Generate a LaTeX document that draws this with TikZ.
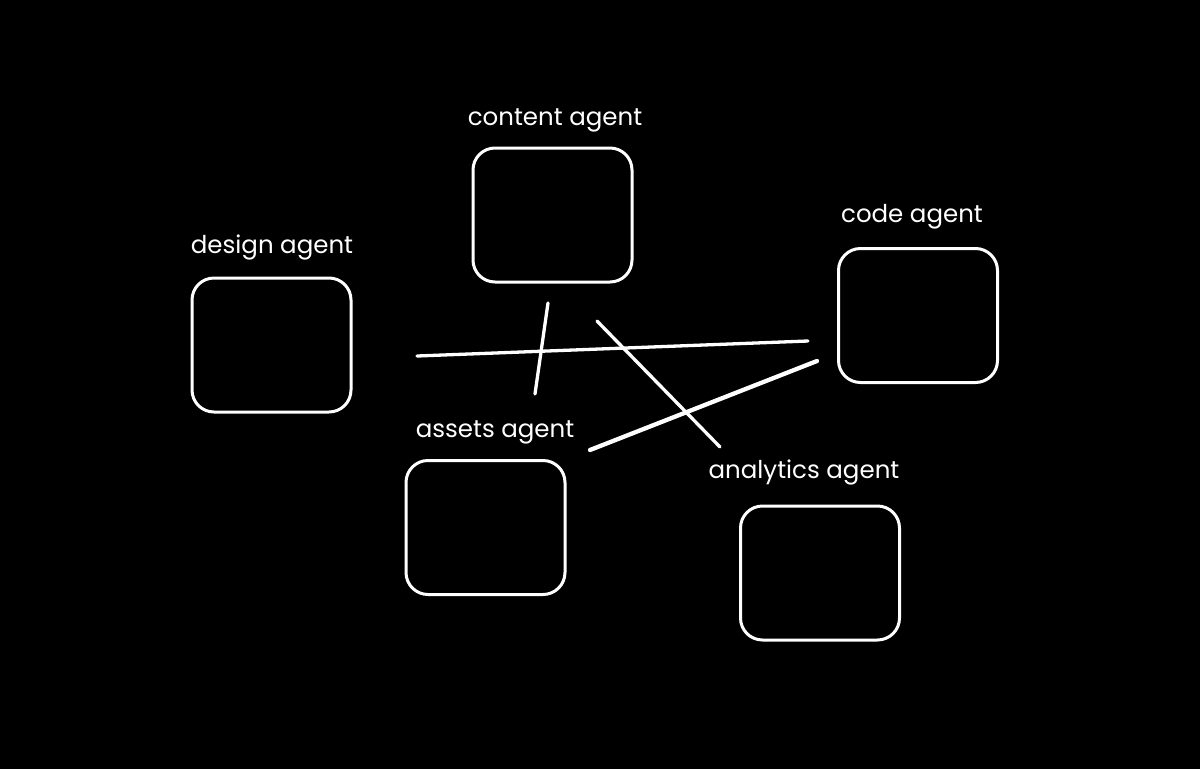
\documentclass[tikz,border=0pt]{standalone}
\usepackage{fontspec}
\setmainfont{Poppins}
\begin{document}
\begin{tikzpicture}[x=1pt,y=-1pt,
  agentbox/.style={draw=white,line width=3pt,rounded corners=22pt,minimum width=159pt,minimum height=134pt,inner sep=0pt},
  agentlabel/.style={text=white,font=\fontsize{24.5}{28}\selectfont,anchor=base,inner sep=0pt},
  link/.style={white,line width=3.3pt,line cap=round}]
\fill[black] (0,0) rectangle (1200,769);
\useasboundingbox (0,0) rectangle (1200,769);
% boxes
\node[agentbox] (content) at (552.5,215) {};
\node[agentbox] (design) at (271.5,345) {};
\node[agentbox] (code) at (918,315.5) {};
\node[agentbox] (assets) at (485.5,527.5) {};
\node[agentbox] (analytics) at (820,573) {};
% labels
\node[agentlabel] (lcontent) at (555,125) {content agent};
\node[agentlabel] (ldesign) at (272,253) {design agent};
\node[agentlabel] (lcode) at (912,222) {code agent};
\node[agentlabel] (lassets) at (495,437) {assets agent};
\node[agentlabel] (lanalytics) at (804,478) {analytics agent};
% connector ends
\coordinate (h1) at (417,356);
\coordinate (h2) at (808,341);
\coordinate (v1) at (548,303);
\coordinate (v2) at (535,394);
\coordinate (d1) at (597,321);
\coordinate (d2) at (720,447);
\coordinate (a1) at (590,450);
\coordinate (a2) at (817,361);
\draw[link] (h1) -- (h2);
\draw[link] (v1) -- (v2);
\draw[link] (d1) -- (d2);
\draw[link,line width=4.3pt] (a1) -- (a2);
\end{tikzpicture}
\end{document}
